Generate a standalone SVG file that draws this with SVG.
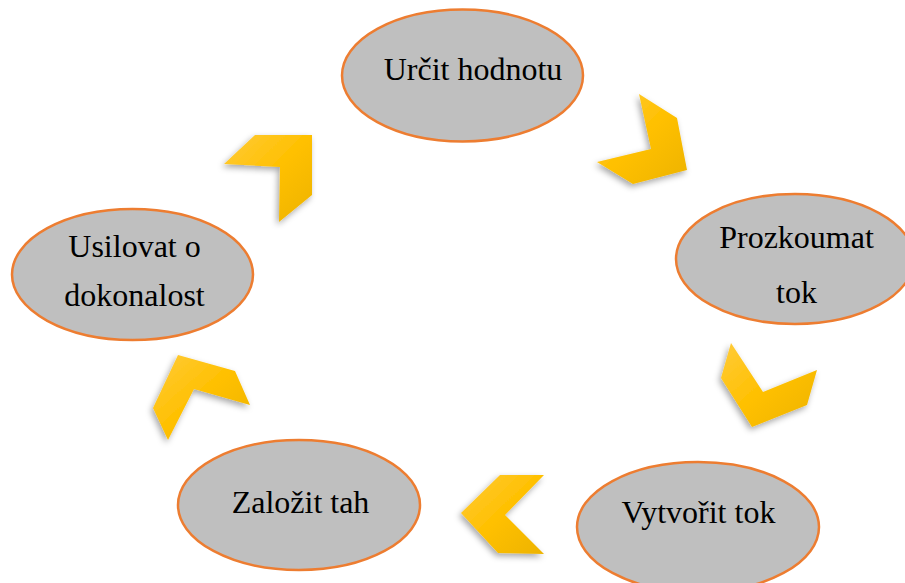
<svg xmlns="http://www.w3.org/2000/svg" width="905" height="583" viewBox="0 0 905 583">
<style>
.node ellipse{fill:#BFBFBF;stroke:#ED7D31;stroke-width:2.5}
.node text{font-family:"Liberation Serif","Times New Roman",serif;font-size:32px;fill:#000;text-anchor:middle}
.chev{fill:url(#gold);filter:url(#sh)}
</style>
<defs>
<linearGradient id="gold" x1="0" y1="0" x2="1" y2="1">
<stop offset="0" stop-color="#FFCB3A"/>
<stop offset="0.5" stop-color="#FFC000"/>
<stop offset="1" stop-color="#EDB300"/>
</linearGradient>
<filter id="sh" x="-30%" y="-30%" width="160%" height="160%">
<feDropShadow dx="-2" dy="3" stdDeviation="3" flood-color="#000" flood-opacity="0.35"/>
</filter>
</defs>
<rect width="905" height="583" fill="#fff"/>
<g id="connectors">
<polygon class="chev" points="639,94 677,118 687,170 633,184 597,162 651,149"/>
<polygon class="chev" points="731,343 763,392 817,370 807,405 752,427 721,378"/>
<polygon class="chev" points="500,475 544,475 505,515 544,554 498,553 461,513"/>
<polygon class="chev" points="178,355 235,371 250,405 194,389 168,440 153,408"/>
<polygon class="chev" points="255,135 312,135 312,195 279,222 280,167 224,164"/>
</g>
<g id="node-urcit" class="node">
<ellipse cx="462.5" cy="75.5" rx="120.5" ry="66"/>
<text x="473" y="80">Určit hodnotu</text>
</g>
<g id="node-prozkoumat" class="node">
<ellipse cx="795" cy="259" rx="119" ry="65"/>
<text x="796.5" y="248">Prozkoumat</text>
<text x="796.5" y="303">tok</text>
</g>
<g id="node-vytvorit" class="node">
<ellipse cx="698" cy="527" rx="121" ry="65"/>
<text x="698.5" y="523">Vytvořit tok</text>
</g>
<g id="node-zalozit" class="node">
<ellipse cx="299" cy="505" rx="121" ry="65"/>
<text x="300.5" y="513">Založit tah</text>
</g>
<g id="node-usilovat" class="node">
<ellipse cx="132.5" cy="274.5" rx="120.5" ry="65.5"/>
<text x="134.5" y="257">Usilovat o</text>
<text x="134.5" y="306">dokonalost</text>
</g>
</svg>
